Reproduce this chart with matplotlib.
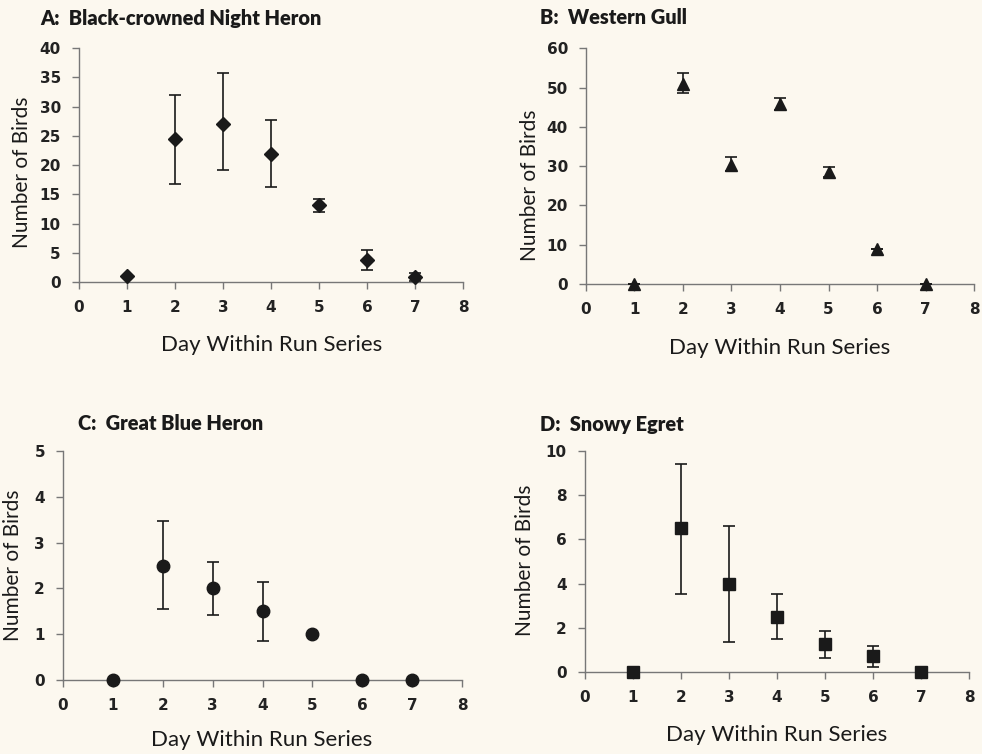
import matplotlib
matplotlib.use("Agg")
import matplotlib.pyplot as plt
import numpy as np

days = [1, 2, 3, 4, 5, 6, 7]

# A: Black-crowned Night Heron
a_vals = [1.0, 24.4, 27.1, 21.9, 13.1, 3.7, 0.8]
a_lo = [1.0, 16.8, 19.1, 16.2, 12.0, 2.1, 0.1]
a_hi = [1.0, 32.0, 35.7, 27.7, 14.2, 5.5, 1.6]

# B: Western Gull
b_vals = [0.0, 51.0, 30.2, 45.8, 28.5, 8.8, 0.0]
b_lo = [0.0, 48.6, 28.8, 44.2, 27.3, 8.8, 0.0]
b_hi = [0.0, 53.6, 32.3, 47.3, 29.8, 8.8, 0.0]

# C: Great Blue Heron
c_vals = [0.0, 2.5, 2.0, 1.5, 1.0, 0.0, 0.0]
c_lo = [0.0, 1.54, 1.43, 0.86, 1.0, 0.0, 0.0]
c_hi = [0.0, 3.47, 2.57, 2.14, 1.0, 0.0, 0.0]

# D: Snowy Egret
d_vals = [0.0, 6.5, 4.0, 2.5, 1.27, 0.72, 0.0]
d_lo = [0.0, 3.51, 1.37, 1.49, 0.65, 0.23, 0.0]
d_hi = [0.0, 9.43, 6.6, 3.51, 1.84, 1.19, 0.0]

x_ticks = [0, 1, 2, 3, 4, 5, 6, 7, 8]

bg = "#fcf8ef"
fig = plt.figure(figsize=(9.82, 7.54), dpi=100, facecolor=bg)

panels = [
    dict(title="A:  Black-crowned Night Heron", vals=a_vals, lo=a_lo, hi=a_hi,
         ymax=40, ystep=5, marker="D", ms=7.5,
         rect=[0.0804, 0.626, 0.3911, 0.310], tpos=(40, 18),
         xl=(272, 345), yl=(22, 172)),
    dict(title="B:  Western Gull", vals=b_vals, lo=b_lo, hi=b_hi,
         ymax=60, ystep=10, marker="^", ms=9,
         rect=[0.5967, 0.6233, 0.3952, 0.3127], tpos=(540, 18),
         xl=(780, 348), yl=(530, 185)),
    dict(title="C:  Great Blue Heron", vals=c_vals, lo=c_lo, hi=c_hi,
         ymax=5, ystep=1, marker="o", ms=9,
         rect=[0.0642, 0.0981, 0.4063, 0.3038], tpos=(78, 424),
         xl=(262, 740), yl=(13, 565)),
    dict(title="D:  Snowy Egret", vals=d_vals, lo=d_lo, hi=d_hi,
         ymax=10, ystep=2, marker="s", ms=9,
         rect=[0.5957, 0.1088, 0.3911, 0.2931], tpos=(540, 424),
         xl=(777, 735), yl=(525, 560)),
]

W, H = 982, 754
for p in panels:
    ax = fig.add_axes(p["rect"])
    ax.set_facecolor(bg)
    vals = np.array(p["vals"])
    err = [vals - np.array(p["lo"]), np.array(p["hi"]) - vals]
    ax.errorbar(days, vals, yerr=err, fmt=p["marker"], ms=p["ms"],
                color="#1a1a1a", ecolor="#1a1a1a", elinewidth=1.2,
                capsize=4, capthick=1.2, clip_on=False, zorder=3)
    ax.set_xlim(0, 8)
    ax.set_ylim(0, p["ymax"])
    ax.set_xticks(x_ticks)
    ax.set_yticks(np.arange(0, p["ymax"] + p["ystep"] / 2, p["ystep"]))
    for s in ["top", "right"]:
        ax.spines[s].set_visible(False)
    for s in ["left", "bottom"]:
        ax.spines[s].set_color("#777777")
        ax.spines[s].set_linewidth(1.0)
    ax.tick_params(axis="both", direction="out", length=5, width=1.0,
                   color="#777777", labelsize=11, pad=8)
    for lab in ax.get_xticklabels() + ax.get_yticklabels():
        lab.set_fontweight("bold")
        lab.set_color("#222222")
    fig.text(p["tpos"][0] / W, 1 - p["tpos"][1] / H, p["title"],
             ha="left", va="center", fontsize=14.4, fontweight="heavy",
             family="Lato", color="#1a1a1a")
    fig.text(p["xl"][0] / W, 1 - p["xl"][1] / H, "Day Within Run Series",
             ha="center", va="center", fontsize=16, family="Lato", color="#1a1a1a")
    fig.text(p["yl"][0] / W, 1 - p["yl"][1] / H, "Number of Birds",
             ha="center", va="center", fontsize=15, rotation=90,
             family="Lato", color="#1a1a1a")

fig.savefig("out.png", dpi=100, facecolor=bg)
